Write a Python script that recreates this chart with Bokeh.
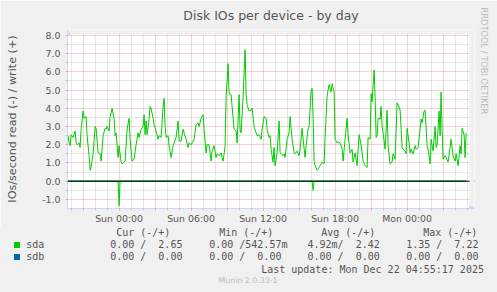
from html import escape
from bokeh.plotting import figure
from bokeh.layouts import column
from bokeh.models import (FixedTicker, Arrow, NormalHead, Span, Title, Div,
                          PrintfTickFormatter, Range1d, BoxAnnotation)
from bokeh.embed import file_html
from bokeh.resources import INLINE

# ---- data: minutes relative to Sun 21 Dec 2025 00:00, IOs/second ----
sda_write_samples = [
    (-255, 2.5), (-250, 2.1), (-245, 1.95), (-240, 2.55), (-230, 2.4), (-220, 2.75), (-215, 2.1), (-210, 2.0), (-200, 2.1), (-195, 1.85),
    (-190, 2.85), (-180, 3.85), (-175, 3.45), (-165, 3.55), (-160, 2.5), (-150, 1.4), (-145, 0.6), (-140, 0.75), (-130, 1.5), (-120, 3.0),
    (-115, 2.9), (-105, 1.55), (-95, 1.5), (-90, 1.1), (-80, 2.5), (-70, 2.9), (-65, 2.85), (-60, 3.0), (-50, 2.75), (-45, 3.55),
    (-35, 4.0), (-25, 3.45), (-20, 2.5), (-15, 2.65), (-10, 2.0), (-5, 1.3), (0, 1.95), (10, 1.05), (15, 0.95), (25, 1.05),
    (30, 1.1), (40, 2.85), (50, 3.45), (55, 2.3), (65, 1.1), (75, 1.2), (85, 2.0), (95, 2.65), (100, 2.4), (110, 2.85),
    (120, 3.0), (125, 3.65), (130, 2.55), (135, 3.3), (140, 2.55), (150, 3.4), (155, 4.1), (160, 4.0), (170, 3.45), (175, 3.1),
    (185, 2.75), (195, 2.3), (200, 2.5), (210, 2.4), (220, 4.1), (225, 4.55), (230, 3.0), (235, 2.4), (245, 2.5), (250, 1.95),
    (260, 1.3), (270, 1.95), (275, 2.1), (285, 2.4), (295, 3.3), (300, 2.2), (310, 2.2), (320, 2.85), (325, 2.65), (335, 2.3),
    (345, 1.85), (350, 2.1), (360, 2.0), (370, 2.2), (375, 2.3), (385, 3.1), (395, 3.2), (400, 3.0), (410, 3.45), (420, 3.65),
    (425, 2.85), (435, 1.55), (440, 2.0), (450, 2.0), (460, 1.1), (465, 1.65), (475, 1.95), (485, 1.3), (490, 1.5), (500, 1.4),
    (510, 1.55), (515, 1.3), (520, 1.1), (530, 1.95), (535, 4.65), (545, 6.45), (550, 4.8), (560, 4.75), (565, 4.1), (575, 2.85),
    (585, 2.75), (590, 2.1), (600, 4.75), (605, 2.85), (610, 2.65), (620, 4.65), (630, 7.22), (635, 4.8), (640, 4.2), (650, 3.85),
    (660, 3.9), (665, 4.0), (675, 3.0), (685, 2.65), (690, 2.5), (700, 2.55), (710, 2.3), (715, 2.85), (725, 3.55), (735, 3.45),
    (740, 2.85), (750, 2.4), (755, 2.5), (760, 1.75), (770, 1.05), (775, 1.85), (780, 0.85), (790, 1.55), (800, 3.3), (805, 1.55),
    (810, 1.5), (820, 1.4), (825, 1.5), (830, 1.3), (840, 2.3), (850, 2.65), (855, 3.55), (865, 2.3), (875, 1.55), (880, 1.5),
    (890, 1.65), (900, 1.4), (905, 1.75), (915, 2.9), (920, 2.3), (930, 1.3), (935, 1.95), (945, 2.85), (950, 3.0), (960, 5.0),
    (965, 5.1), (970, 3.55), (975, 1.1), (980, 0.85), (990, 0.6), (1000, 0.75), (1005, 0.85), (1015, 1.05), (1025, 0.95), (1030, 2.4),
    (1040, 4.65), (1045, 5.0), (1050, 5.3), (1060, 4.9), (1065, 5.35), (1075, 4.9), (1080, 2.3), (1090, 2.1), (1095, 2.15), (1105, 2.1),
    (1115, 1.75), (1120, 1.1), (1130, 2.3), (1140, 3.45), (1145, 2.55), (1155, 1.55), (1165, 1.75), (1170, 1.05), (1180, 1.55), (1190, 0.85),
    (1195, 1.75), (1200, 2.55), (1210, 2.0), (1215, 1.55), (1220, 1.1), (1230, 0.85), (1240, 0.75), (1245, 2.4), (1255, 2.3), (1260, 4.8),
    (1265, 4.35), (1275, 6.1), (1280, 4.65), (1285, 2.4), (1290, 2.5), (1295, 3.45), (1305, 3.4), (1310, 4.1), (1315, 3.0), (1320, 2.65),
    (1330, 1.75), (1340, 3.9), (1345, 1.95), (1355, 0.95), (1365, 1.05), (1370, 1.5), (1380, 1.2), (1390, 4.3), (1395, 4.2), (1405, 3.9),
    (1415, 1.85), (1420, 1.75), (1430, 1.65), (1435, 1.5), (1440, 2.9), (1450, 2.1), (1455, 1.55), (1460, 1.75), (1470, 1.5), (1480, 1.95),
    (1485, 1.75), (1495, 1.85), (1505, 2.85), (1510, 3.4), (1515, 3.2), (1525, 3.85), (1530, 3.9), (1540, 1.95), (1545, 1.75), (1555, 0.95),
    (1560, 2.3), (1570, 1.65), (1580, 3.0), (1585, 1.85), (1590, 1.95), (1600, 3.85), (1605, 2.5), (1610, 4.9), (1615, 2.85), (1620, 1.2),
    (1630, 1.4), (1635, 1.3), (1645, 1.05), (1655, 1.85), (1660, 2.3), (1670, 1.4), (1680, 1.1), (1685, 1.5), (1695, 0.85), (1705, 1.95),
    (1710, 1.5), (1715, 2.9), (1725, 2.55), (1730, 1.3), (1735, 2.65),
]
# reads are drawn below zero
sda_read_samples = [
    (-255, 0.0), (-5, 0.0), (0, -1.35), (5, 0.0), (410, 0.0), (415, -0.04), (420, 0.0),
    (650, 0.0), (655, -0.04), (660, 0.0), (965, 0.0), (970, -0.5), (975, 0.0),
    (1435, 0.0), (1440, -0.04), (1445, 0.0), (1735, 0.0),
]
sdb_samples = [(-255, 0.0), (1735, 0.0)]

x_start, x_end = -258, 1747          # graph period (minutes)
y_start, y_end = -1.5, 8.0
x_label_ticks = [-180, 0, 180, 360, 540, 720, 900, 1080, 1260, 1440, 1620]
x_label_text = {0: "Sun 00:00", 360: "Sun 06:00", 720: "Sun 12:00", 1080: "Sun 18:00", 1440: "Mon 00:00"}
x_minor = [m for m in range(-240, x_end, 60) if m % 180 != 0]
y_ticks = [-1, 0, 1, 2, 3, 4, 5, 6, 7, 8]
y_minor = [-0.5, 0.5, 1.5, 2.5, 3.5, 4.5, 5.5, 6.5, 7.5]

title_text = "Disk IOs per device - by day"
y_label_text = "IOs/second read (-) / write (+)"
legend_headers = ["Cur (-/+)", "Min (-/+)", "Avg (-/+)", "Max (-/+)"]
legend_names = ["sda", "sdb"]
legend_colors = ["#00CC00", "#0066B3"]
legend_values = [
    ["0.00 /  2.65", "0.00 /542.57m", "4.92m/  2.42", "1.35 /  7.22"],
    ["0.00 /  0.00", "0.00 /  0.00", "0.00 /  0.00", "0.00 /  0.00"],
]
last_update = "Last update: Mon Dec 22 04:55:17 2025"
version_text = "Munin 2.0.33-1"
watermark = "RRDTOOL / TOBI OETIKER"

# ---- layout ----
W, H = 497, 292
H1 = 226                       # height of graph part
L, R, T, B = 67, 23, 27, 18    # frame incl. arrow room
PX_PER_UNIT = 175 / (y_end - y_start)
MIN_PER_PX = (x_end - x_start) / 401.0
ext_x = x_end + (497 - R - 468) * MIN_PER_PX
ext_y = y_end + (33 - T) / PX_PER_UNIT

FONT = "#555555"
AXIS = "#CFD6F8"
BACK = "#F0F0F0"
MG, MGA = "#E06060", 0.55
MN, MNA = "#909090", 0.45

p = figure(width=W, height=H1, output_backend="svg", toolbar_location=None, title=None,
           x_range=Range1d(x_start, ext_x), y_range=Range1d(y_start, ext_y),
           min_border_left=L, min_border_right=R, min_border_top=T, min_border_bottom=B)
p.background_fill_color = "#FFFFFF"
p.border_fill_color = BACK
p.outline_line_color = None

p.xgrid.ticker = FixedTicker(ticks=x_label_ticks, minor_ticks=x_minor)
p.ygrid.ticker = FixedTicker(ticks=y_ticks, minor_ticks=y_minor)
for g in (p.xgrid[0], p.ygrid[0]):
    g.grid_line_color = MG
    g.grid_line_alpha = MGA
    g.grid_line_dash = "1 1"
    g.minor_grid_line_color = MN
    g.minor_grid_line_alpha = MNA
    g.minor_grid_line_dash = "1 1"

xa = p.xaxis[0]
xa.ticker = FixedTicker(ticks=x_label_ticks, minor_ticks=x_minor)
xa.major_label_overrides = {t: x_label_text.get(t, "") for t in x_label_ticks}
ya = p.yaxis[0]
ya.ticker = FixedTicker(ticks=y_ticks, minor_ticks=y_minor)
ya.formatter = PrintfTickFormatter(format="%.1f")
for a in (xa, ya):
    a.axis_line_color = AXIS
    a.major_tick_line_color = MG
    a.major_tick_line_alpha = MGA
    a.minor_tick_line_color = MN
    a.minor_tick_line_alpha = MNA
    a.major_tick_in = 0
    a.minor_tick_in = 0
    a.major_tick_out = 2
    a.minor_tick_out = 2
    a.major_label_text_font = "DejaVu Sans"
    a.major_label_text_font_size = "9.4px"
    a.major_label_text_color = FONT
xa.major_label_standoff = 2
ya.major_label_standoff = 5
ya.axis_label = y_label_text
ya.axis_label_text_font = "DejaVu Sans"
ya.axis_label_text_font_size = "11.2px"
ya.axis_label_text_font_style = "normal"
ya.axis_label_text_color = FONT
ya.axis_label_standoff = 20

p.add_layout(Title(text=title_text, align="center", offset=-19.5, standoff=12,
                   vertical_align="middle",
                   text_font="DejaVu Sans", text_font_size="12.5px",
                   text_font_style="normal", text_color=FONT), "above")
p.add_layout(Title(text=watermark, align="left", offset=-22, standoff=9,
                   text_font="DejaVu Sans", text_font_size="8.3px",
                   text_font_style="normal", text_color="#BBBBBB"), "right")

# series
p.line([m for m, v in sdb_samples], [v for m, v in sdb_samples], line_color="#0066B3", line_width=1)
p.line([m for m, v in sda_read_samples], [v for m, v in sda_read_samples], line_color="#00CC00", line_width=1)
p.line([m for m, v in sda_write_samples], [v for m, v in sda_write_samples], line_color="#00CC00", line_width=1)
p.add_layout(Span(location=0, dimension="width", line_color="#000000", line_width=1))

# background outside the graph period / above top of scale (arrow room)
p.add_layout(BoxAnnotation(bottom=y_end + 1 / PX_PER_UNIT, fill_color=BACK, fill_alpha=1.0, line_color=None))
p.add_layout(BoxAnnotation(left=x_end + MIN_PER_PX, fill_color=BACK, fill_alpha=1.0, line_color=None))
p.add_layout(Arrow(x_start=x_start, y_start=y_end, x_end=x_start, y_end=ext_y,
                   line_color=AXIS, line_width=1,
                   end=NormalHead(size=5, fill_color=AXIS, line_color=AXIS)))
p.add_layout(Arrow(x_start=x_end, y_start=y_start, x_end=ext_x, y_end=y_start,
                   line_color=AXIS, line_width=1,
                   end=NormalHead(size=5, fill_color=AXIS, line_color=AXIS)))

# ---- legend part (HTML text, positions in page pixels) ----
MONO = "DejaVu Sans Mono"
parts = []


def text_at(px, py, text, size=10, font=MONO, color=FONT, center=False):
    lh = 12
    top = py - H1 - lh / 2
    if center:
        pos = f"left:{px - 150}px;width:300px;text-align:center;"
    else:
        pos = f"left:{px}px;"
    parts.append(f'<span style="position:absolute;{pos}top:{top:.1f}px;'
                 f"font-family:'{font}';font-size:{size}px;line-height:{lh}px;"
                 f'color:{color};white-space:pre">{escape(text)}</span>')


header_x = [116.2, 219.2, 321.2, 423.2]
cell_x = [110.2, 209.2, 307.5, 406.2]
for hx, h in zip(header_x, legend_headers):
    text_at(hx, 233.3, h)
row_y = [245.0, 257.3]
for ry, name, col, vals in zip(row_y, legend_names, legend_colors, legend_values):
    parts.append(f'<span style="position:absolute;left:14px;top:{ry - 3 - H1:.1f}px;'
                 f'width:6px;height:6px;background:{col}"></span>')
    text_at(26.2, ry, name)
    for cx, v in zip(cell_x, vals):
        text_at(cx, ry, v)
text_at(261.2, 269.7, last_update)
text_at(248, 281.3, version_text, size=7.8, font="DejaVu Sans", color="#BBBBBB", center=True)

legend_html = (f'<div style="position:relative;width:{W}px;height:{H - H1}px;'
               f'background:{BACK};overflow:hidden;margin:0;padding:0">' + "".join(parts) + "</div>")
legend = Div(text=legend_html, width=W, height=H - H1, margin=0)

layout = column(p, legend, spacing=0)
open("out.html", "w").write(file_html(layout, INLINE))
